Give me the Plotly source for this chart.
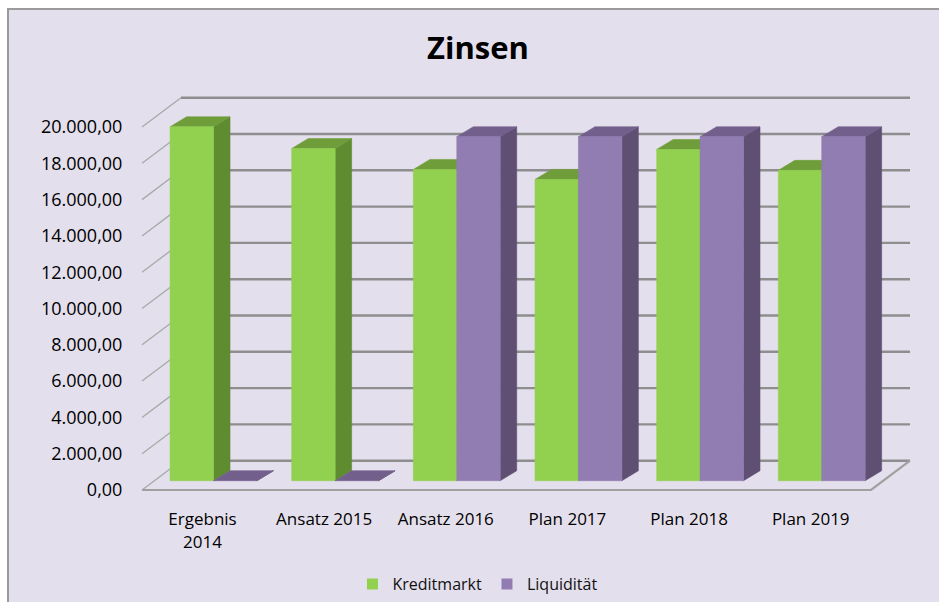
import plotly.graph_objects as go

# ---------------- data ----------------
CATEGORIES = ["Ergebnis<br>2014", "Ansatz 2015", "Ansatz 2016", "Plan 2017", "Plan 2018", "Plan 2019"]
KREDITMARKT = [19500, 18300, 17150, 16600, 18250, 17100]
LIQUIDITAET = [0, 0, 18950, 18950, 18950, 18950]
Y_TICKS = [0, 2000, 4000, 6000, 8000, 10000, 12000, 14000, 16000, 18000, 20000]
SERIES = ["Kreditmarkt", "Liquidität"]

# ---------------- style / pseudo-3D geometry ----------------
BG = "#E4DFEC"
GREEN = dict(front="#92D050", side="#5F8B31", top="#6E9D3A")
PURPLE = dict(front="#927DB3", side="#5E4F73", top="#735F8C")
GRID = "#8E8E8E"
FONT = "Open Sans"

BAR_W = 0.3568        # width of one bar (category units)
GROUP_SHIFT = 0.0904  # bars sit a bit behind the front edge -> shifted right
BAR_DX = 0.1356       # bar depth, horizontal component
BAR_DY = 551          # bar depth, vertical component (value units)
FRONT_V = 512         # bar front face base raised above floor front edge
WALL_DX = 0.3206      # floor depth, horizontal
WALL_DY = 1614        # floor depth, vertical
FLOOR_LEFT = -0.4973
FLOOR_RIGHT = 5.4954
X_RANGE = [-0.5138, 5.8488]
Y_RANGE = [-551, 22039]


def poly(xs, ys, color):
    return go.Scatter(x=xs + [xs[0]], y=ys + [ys[0]], mode="lines", fill="toself",
                      fillcolor=color, line=dict(width=0.6, color=color),
                      hoverinfo="skip", showlegend=False)


def line(xs, ys, color, width):
    return go.Scatter(x=xs, y=ys, mode="lines", line=dict(color=color, width=width),
                      hoverinfo="skip", showlegend=False)


fig = go.Figure()

# back wall gridlines + diagonal side ticks
for v in Y_TICKS:
    fig.add_trace(line([FLOOR_LEFT, FLOOR_LEFT + WALL_DX], [v, v + WALL_DY], "#A8A8A8", 1.3))
    fig.add_trace(line([FLOOR_LEFT + WALL_DX, FLOOR_RIGHT + WALL_DX], [v + WALL_DY, v + WALL_DY], GRID, 2.4))

# floor front edge and right edge
fig.add_trace(line([FLOOR_LEFT, FLOOR_RIGHT, FLOOR_RIGHT + WALL_DX],
                   [0, 0, WALL_DY], "#A0A0A0", 2.2))


def add_bar(x0, val, col):
    xl, xr = x0, x0 + BAR_W
    yb, yt = FRONT_V, FRONT_V + val
    fig.add_trace(poly([xr, xr + BAR_DX, xr + BAR_DX, xr], [yb, yb + BAR_DY, yt + BAR_DY, yt], col["side"]))
    fig.add_trace(poly([xl, xr, xr + BAR_DX, xl + BAR_DX], [yt, yt, yt + BAR_DY, yt + BAR_DY], col["top"]))
    if val > 0:
        fig.add_trace(poly([xl, xr, xr, xl], [yb, yb, yt, yt], col["front"]))


for i, (k, l) in enumerate(zip(KREDITMARKT, LIQUIDITAET)):
    c = i + GROUP_SHIFT
    add_bar(c - BAR_W, k, GREEN)
    add_bar(c, l, PURPLE)

# legend entries
for name, col in zip(SERIES, [GREEN, PURPLE]):
    fig.add_trace(go.Scatter(x=[None], y=[None], mode="markers", name=name,
                             marker=dict(symbol="square", size=11, color=col["front"])))

fig.update_layout(
    width=939, height=602,
    margin=dict(l=140, r=25, t=90, b=102, autoexpand=False),
    paper_bgcolor="white",
    plot_bgcolor="rgba(0,0,0,0)",
    separators=",.",
    font=dict(family=FONT, color="#000000"),
    title=dict(text="<b>Zinsen</b>", x=0.509, y=0.92, xref="container", yref="container",
               xanchor="center", yanchor="middle", font=dict(family=FONT, size=31, color="#000000")),
    xaxis=dict(range=X_RANGE, tickvals=list(range(len(CATEGORIES))), ticktext=CATEGORIES,
               showgrid=False, zeroline=False, showline=False, ticks="outside", ticklen=4,
               tickcolor="rgba(0,0,0,0)", tickfont=dict(size=17, family=FONT, color="#000000"),
               fixedrange=True, automargin=False),
    yaxis=dict(range=Y_RANGE, tickvals=Y_TICKS, tickformat=",.2f", showgrid=False,
               zeroline=False, showline=False, ticks="outside", ticklen=13,
               tickcolor="rgba(0,0,0,0)", tickfont=dict(size=18, family=FONT, color="#000000"),
               fixedrange=True, automargin=False),
    legend=dict(orientation="h", x=0.436, xanchor="center", y=-0.205, yanchor="middle",
                font=dict(size=16, family=FONT, color="#111111"), bgcolor="rgba(0,0,0,0)",
                itemclick=False, itemdoubleclick=False),
    shapes=[dict(type="rect", xref="paper", yref="paper", layer="below",
                 x0=(8 - 140) / 774, x1=(960 - 140) / 774,
                 y0=(500 - 620) / 410, y1=(500 - 9) / 410,
                 fillcolor=BG, line=dict(color="#9A9A9A", width=2))],
)

fig.write_html("out.html", config={"displayModeBar": False},
               post_script="document.body.style.margin='0';document.body.style.overflow='hidden';")
